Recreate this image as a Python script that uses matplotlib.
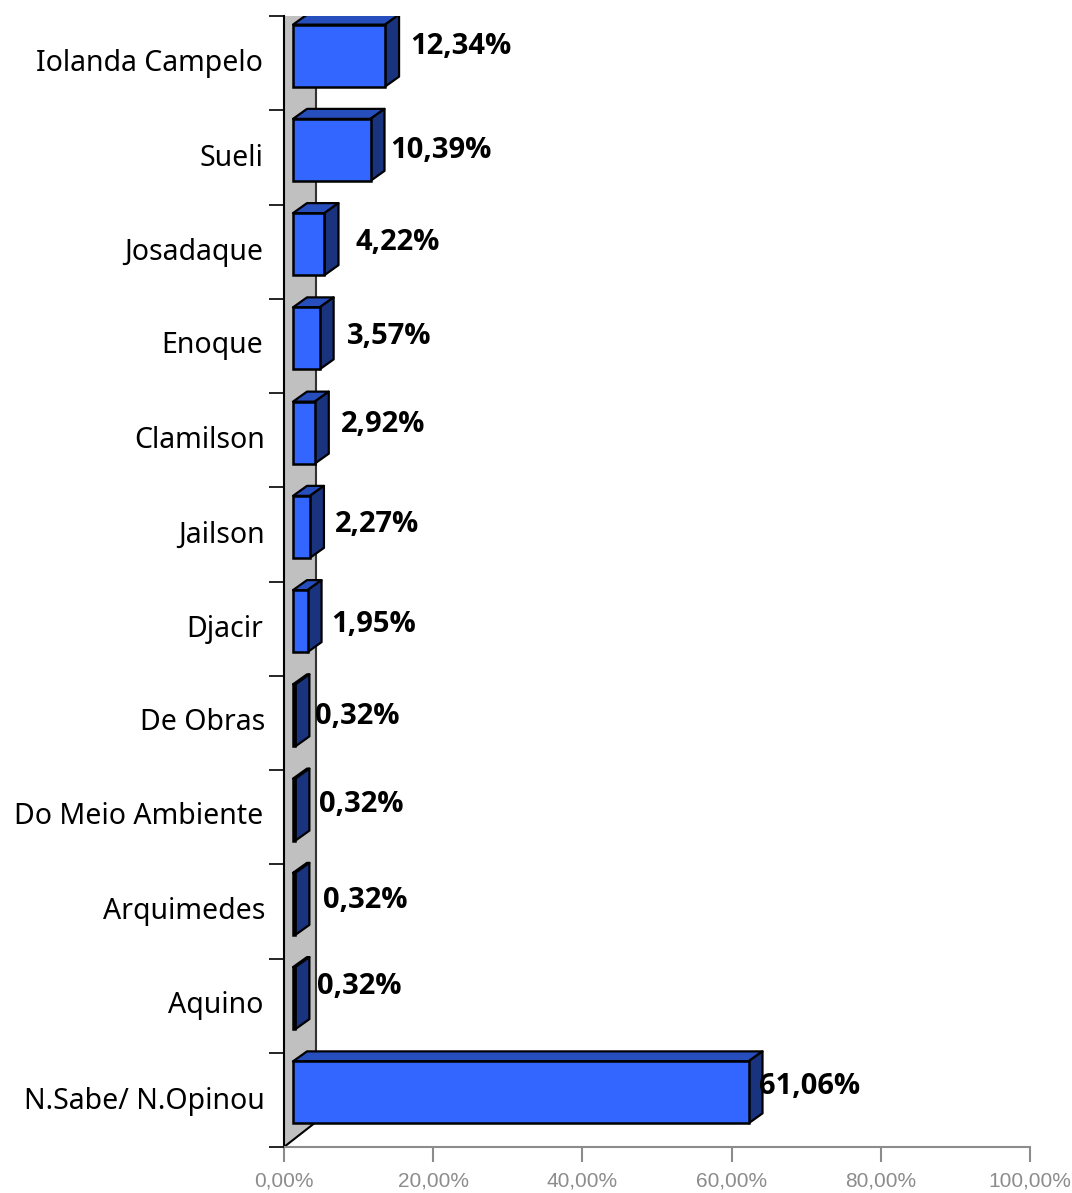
import matplotlib
matplotlib.use("Agg")
import matplotlib.pyplot as plt
from matplotlib.patches import Polygon

categories = ["Iolanda Campelo", "Sueli", "Josadaque", "Enoque", "Clamilson", "Jailson",
              "Djacir", "De Obras", "Do Meio Ambiente", "Arquimedes", "Aquino", "N.Sabe/ N.Opinou"]
values = [12.34, 10.39, 4.22, 3.57, 2.92, 2.27, 1.95, 0.32, 0.32, 0.32, 0.32, 61.06]
value_labels = ["12,34%", "10,39%", "4,22%", "3,57%", "2,92%", "2,27%", "1,95%",
                "0,32%", "0,32%", "0,32%", "0,32%", "61,06%"]
xticks = [0, 20, 40, 60, 80, 100]
xticklabels = ["0,00%", "20,00%", "40,00%", "60,00%", "80,00%", "100,00%"]

# label placement in figure pixels (from top-left)
cat_right = [263, 263, 263, 263, 265, 265, 263, 265, 263, 265, 263, 265]
cat_y = [63, 158, 252, 345, 440, 535, 629, 722, 817, 912, 1006, 1101]
val_left = [410, 390, 356, 347, 341, 335, 331, 315, 319, 323, 317, 759]
val_y = [46, 150, 243, 336, 424, 525, 624, 716, 805, 900, 987, 1087]

W, H = 1072, 1193
AX_L, AX_R, AX_T, AX_B = 284, 1030, 16, 1147

fig = plt.figure(figsize=(W / 100, H / 100), dpi=100, facecolor="white")
ax = fig.add_axes([AX_L / W, 1 - AX_B / H, (AX_R - AX_L) / W, (AX_B - AX_T) / H])
ax.set_xlim(0, 100)
ax.set_ylim(len(categories), 0)
ppx = 100 / (AX_R - AX_L)                 # data x per pixel
ppy = len(categories) / (AX_B - AX_T)     # data y per pixel

off_x, depth_x, depth_y, bar_h, wall_w = 9 * ppx, 14 * ppx, 10 * ppy, 62 * ppy, 32 * ppx
wall_drop = 25 * ppy
centre_shift = -7.5 * ppy

# back wall
n = len(categories)
ax.add_patch(Polygon([(0, 0), (wall_w, 0), (wall_w, n - wall_drop), (0, n)],
                     closed=True, fc="#c0c0c0", ec="none", zorder=1))
ax.plot([wall_w, wall_w], [0, n - wall_drop], color="#333333", lw=1.5, zorder=1.5)
ax.plot([0, wall_w], [n, n - wall_drop], color="black", lw=1.5, zorder=1.5)

# 3-D bars
for i, v in enumerate(values):
    c = i + 0.5 + centre_shift
    t, b = c - bar_h / 2, c + bar_h / 2
    l, r = off_x, off_x + v
    ax.add_patch(Polygon([(l, t), (l + depth_x, t - depth_y), (r + depth_x, t - depth_y), (r, t)],
                         closed=True, fc="#264fbd", ec="black", lw=1.6, zorder=3, joinstyle="round"))
    ax.add_patch(Polygon([(r, t), (r + depth_x, t - depth_y), (r + depth_x, b - depth_y), (r, b)],
                         closed=True, fc="#1a337f", ec="black", lw=1.6, zorder=3, joinstyle="round"))
    ax.barh(c, v, height=bar_h, left=l, color="#3366ff", edgecolor="black", linewidth=1.8, zorder=4)

# axes
for s in ("top", "right"):
    ax.spines[s].set_visible(False)
ax.spines["left"].set_color("black")
ax.spines["left"].set_linewidth(1.5)
ax.spines["bottom"].set_color("#8c8c8c")
ax.spines["bottom"].set_linewidth(1.5)
ax.set_axisbelow(False)
ax.set_xticks(xticks)
ax.set_xticklabels([])
ax.tick_params(axis="x", length=10.5, width=1.5, color="#8c8c8c")
ax.set_yticks(range(n + 1))
ax.set_yticklabels([])
ax.tick_params(axis="y", length=10.5, width=1.2, color="black")

# text
for t, x in zip(xticklabels, xticks):
    fig.text((AX_L + x / ppx) / W, 1 - 1181 / H, t, ha="center", va="center",
             family="Liberation Sans", fontsize=15, color="#8c8c8c")
for t, x, y in zip(categories, cat_right, cat_y):
    fig.text(x / W, 1 - y / H, t, ha="right", va="center", family="Noto Sans", fontsize=20.5, color="black")
for t, x, y in zip(value_labels, val_left, val_y):
    fig.text(x / W, 1 - y / H, t, ha="left", va="center", family="Open Sans", fontsize=21,
             fontweight="bold", color="black", zorder=10)

fig.savefig("out.png", dpi=100)
